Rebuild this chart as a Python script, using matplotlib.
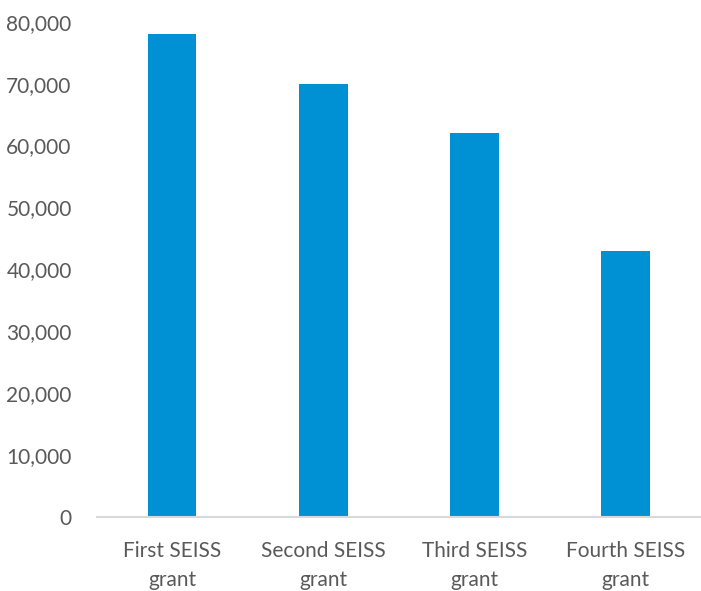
import matplotlib
matplotlib.use("Agg")
import matplotlib.pyplot as plt
from matplotlib.ticker import FuncFormatter, MultipleLocator

categories = ["First SEISS\ngrant", "Second SEISS\ngrant", "Third SEISS\ngrant", "Fourth SEISS\ngrant"]
claims = [78000, 70000, 62000, 43000]

bar_color = "#0091D5"
text_color = "#595959"
axis_color = "#D9D9D9"

plt.rcParams["font.family"] = ["Lato", "DejaVu Sans"]

fig = plt.figure(figsize=(7.01, 5.91), dpi=100)
ax = fig.add_axes([0.138, 0.1244, 0.862, 0.839])

x = range(len(categories))
ax.bar(x, claims, width=0.32, color=bar_color, zorder=2)

ax.set_xlim(-0.5, len(categories) - 0.5)
ax.set_ylim(0, 80000)
ax.yaxis.set_major_locator(MultipleLocator(10000))
ax.yaxis.set_major_formatter(FuncFormatter(lambda v, p: f"{int(v):,}"))
ax.set_xticks(list(x))
ax.set_xticklabels(categories, linespacing=1.55)

for s in ["top", "right", "left"]:
    ax.spines[s].set_visible(False)
ax.spines["bottom"].set_color(axis_color)
ax.spines["bottom"].set_linewidth(1.5)

ax.tick_params(axis="y", length=0, pad=18, labelsize=15, labelcolor=text_color)
ax.tick_params(axis="x", length=0, pad=17, labelsize=15, labelcolor=text_color)

fig.savefig("out.png", dpi=100)
